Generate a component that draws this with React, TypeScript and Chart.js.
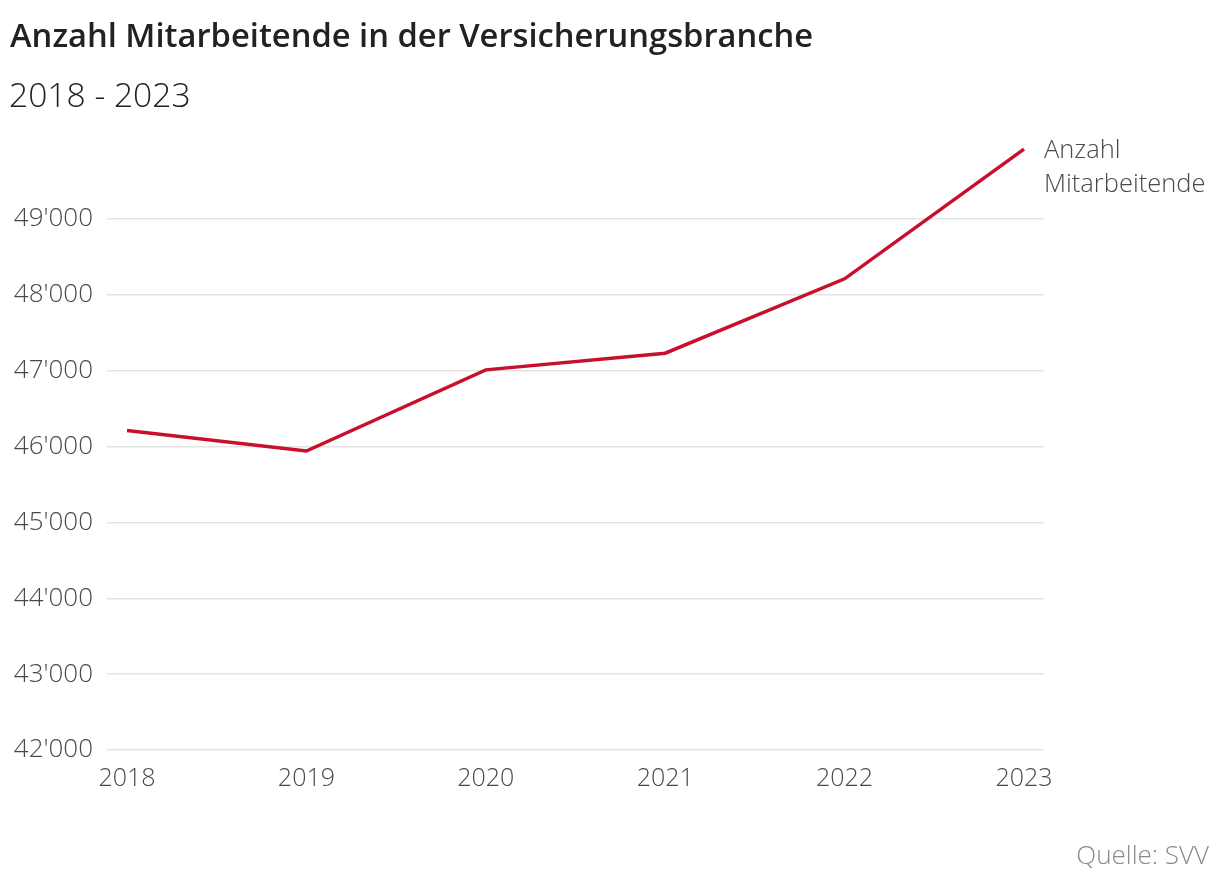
import React, { useEffect, useRef } from "react";
import { Chart, registerables } from "chart.js";

Chart.register(...registerables);

const years = [2018, 2019, 2020, 2021, 2022, 2023];
const employees = [46210, 45940, 47010, 47230, 48210, 49920];
const yTicks = [42000, 43000, 44000, 45000, 46000, 47000, 48000, 49000];
const seriesLabel = ["Anzahl", "Mitarbeitende"];
const titleText = "Anzahl Mitarbeitende in der Versicherungsbranche";
const subtitleText = "2018 - 2023";
const sourceText = "Quelle: SVV";

const RED = "#c8102e";
const TICK_COLOR = "#4a4a45";
const FONT = "'Open Sans', 'Noto Sans', sans-serif";

const fmt = (v: number) => String(Math.round(v)).replace(/\B(?=(\d{3})+(?!\d))/g, "'");

const endLabelPlugin = {
  id: "endLabel",
  afterDatasetsDraw(chart: any) {
    const meta = chart.getDatasetMeta(0);
    const last = meta.data[meta.data.length - 1];
    if (!last) return;
    const ctx = chart.ctx;
    ctx.save();
    ctx.font = `300 25.5px ${FONT}`;
    ctx.fillStyle = TICK_COLOR;
    ctx.textAlign = "left";
    ctx.textBaseline = "middle";
    seriesLabel.forEach((t, i) => {
      ctx.fillText(t, last.x + 20, last.y + 2 + i * 34);
    });
    ctx.restore();
  },
};

export default function App() {
  const ref = useRef<HTMLCanvasElement | null>(null);

  useEffect(() => {
    if (!ref.current) return;
    const chart = new Chart(ref.current, {
      type: "line",
      data: {
        datasets: [
          {
            label: seriesLabel.join(" "),
            data: years.map((y, i) => ({ x: y, y: employees[i] })),
            borderColor: RED,
            borderWidth: 3.5,
            pointRadius: 0,
            tension: 0,
            fill: false,
          },
        ],
      },
      options: {
        animation: false,
        responsive: false,
        devicePixelRatio: 1,
        layout: { padding: { top: 143, right: 176, left: 0, bottom: 0 } },
        plugins: {
          legend: { display: false },
          tooltip: { enabled: false },
          title: { display: false },
        },
        scales: {
          x: {
            type: "linear",
            min: 2017.8885,
            max: 2023.1115,
            afterBuildTicks: (scale: any) => {
              scale.ticks = years.map((v) => ({ value: v }));
            },
            afterFit: (scale: any) => {
              scale.height = 136;
            },
            grid: { display: false, drawTicks: false },
            border: { display: false },
            ticks: {
              padding: 14,
              color: TICK_COLOR,
              font: { family: FONT, size: 25, weight: 300 },
              callback: (v: any) => String(v),
              maxRotation: 0,
              autoSkip: false,
            },
          },
          y: {
            type: "linear",
            min: 42000,
            max: 50000,
            afterBuildTicks: (scale: any) => {
              scale.ticks = yTicks.map((v) => ({ value: v }));
            },
            afterFit: (scale: any) => {
              scale.width = 107;
            },
            grid: { color: "#e3e3e3", lineWidth: 1.5, drawTicks: false },
            border: { display: false },
            ticks: {
              padding: 14,
              color: TICK_COLOR,
              font: { family: FONT, size: 26, weight: 300 },
              callback: (v: any) => fmt(Number(v)),
            },
          },
        },
      },
      plugins: [endLabelPlugin],
    });
    return () => chart.destroy();
  }, []);

  return (
    <div style={{ position: "absolute", left: 0, top: 0, width: 1220, height: 886, background: "#fff", overflow: "hidden" }}>
      <canvas ref={ref} width={1220} height={886} style={{ position: "absolute", left: 0, top: 0 }} />
      <div
        style={{
          position: "absolute",
          left: 10,
          top: 13,
          fontFamily: FONT,
          fontWeight: 600,
          fontSize: 32.7,
          color: "#222",
          whiteSpace: "nowrap",
          lineHeight: "44px",
        }}
      >
        {titleText}
      </div>
      <div
        style={{
          position: "absolute",
          left: 9,
          top: 72,
          fontFamily: FONT,
          fontWeight: 300,
          fontSize: 33.6,
          color: "#222",
          whiteSpace: "nowrap",
          lineHeight: "44px",
        }}
      >
        {subtitleText}
      </div>
      <div
        style={{
          position: "absolute",
          right: 11,
          top: 837,
          fontFamily: FONT,
          fontWeight: 300,
          fontSize: 26,
          color: "#8a8a8a",
          whiteSpace: "nowrap",
          lineHeight: "34px",
        }}
      >
        {sourceText}
      </div>
    </div>
  );
}
